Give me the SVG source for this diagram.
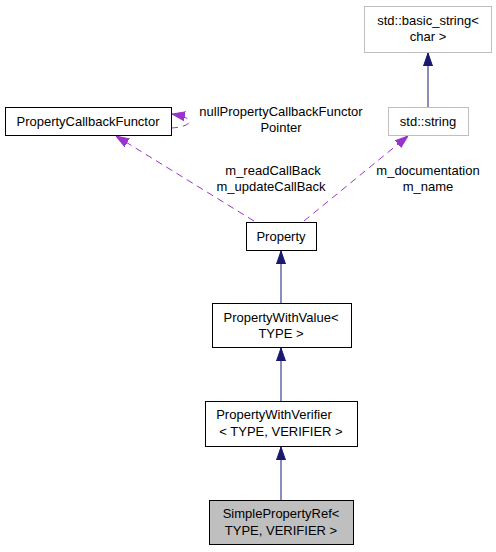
<svg xmlns="http://www.w3.org/2000/svg" width="496" height="552" viewBox="0 0 496 552">
<style>
text{font-family:"Liberation Sans",Arial,sans-serif;font-size:13px;fill:#000;text-anchor:middle}
.n{fill:#fff;stroke:#000;stroke-width:1}
.g{fill:#fff;stroke:#bfbfbf;stroke-width:1}
.s{fill:#bfbfbf;stroke:#000;stroke-width:1}
.inh{stroke:#191970;stroke-width:1;fill:none}
.use{stroke:#9a32cd;stroke-width:1;fill:none;stroke-dasharray:7,5}
</style>
<defs>
<marker id="ai" viewBox="0 0 13 10" refX="13" refY="5" markerWidth="13" markerHeight="10" markerUnits="userSpaceOnUse" orient="auto"><path d="M0,0.5 L13,5 L0,9.5 Z" fill="#191970" stroke="#191970"/></marker>
<marker id="au" viewBox="0 0 13 10" refX="13" refY="5" markerWidth="13" markerHeight="10" markerUnits="userSpaceOnUse" orient="auto"><path d="M0,0.5 L13,5 L0,9.5 Z" fill="#9a32cd" stroke="#9a32cd"/></marker>
</defs>
<g id="connectors">
<path class="inh" d="M428,107 L428,53" marker-end="url(#ai)"/>
<path class="inh" d="M281,303 L281,251" marker-end="url(#ai)"/>
<path class="inh" d="M281,401 L281,348" marker-end="url(#ai)"/>
<path class="inh" d="M281,500 L281,447" marker-end="url(#ai)"/>
<path class="use" d="M254,221 L116,136" marker-end="url(#au)"/>
<path class="use" d="M304,221 L408,136" marker-end="url(#au)"/>
<path class="use" d="M171,128 C190,127 200,119 172,114" marker-end="url(#au)"/>
<text x="281" y="116">nullPropertyCallbackFunctor</text>
<text x="281" y="132">Pointer</text>
<text x="273" y="175">m_readCallBack</text>
<text x="271" y="191">m_updateCallBack</text>
<text x="428" y="175">m_documentation</text>
<text x="428" y="191">m_name</text>
</g>
<g id="basic_string">
<rect class="g" x="364.5" y="6.5" width="127" height="46"/>
<text x="428" y="25">std::basic_string&lt;</text>
<text x="428" y="41">char &gt;</text>
</g>
<g id="PropertyCallbackFunctor">
<rect class="n" x="5.5" y="107.5" width="166" height="28"/>
<text x="88" y="126">PropertyCallbackFunctor</text>
</g>
<g id="std_string">
<rect class="g" x="388.5" y="107.5" width="80" height="28"/>
<text x="428" y="126">std::string</text>
</g>
<g id="Property">
<rect class="n" x="246.5" y="222.5" width="70" height="28"/>
<text x="281" y="241">Property</text>
</g>
<g id="PropertyWithValue">
<rect class="n" x="212.5" y="303.5" width="139" height="44"/>
<text x="281" y="322">PropertyWithValue&lt;</text>
<text x="281" y="338">TYPE &gt;</text>
</g>
<g id="PropertyWithVerifier">
<rect class="n" x="205.5" y="401.5" width="152" height="45"/>
<text x="274" y="419">PropertyWithVerifier</text>
<text x="281" y="436">&lt; TYPE, VERIFIER &gt;</text>
</g>
<g id="SimplePropertyRef">
<rect class="s" x="209.5" y="500.5" width="144" height="44"/>
<text x="281" y="518">SimplePropertyRef&lt;</text>
<text x="281" y="535">TYPE, VERIFIER &gt;</text>
</g>
</svg>
